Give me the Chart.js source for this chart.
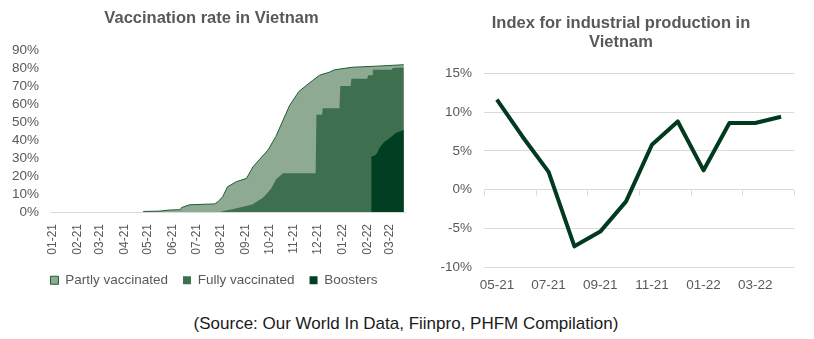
<!DOCTYPE html>
<html>
<head>
<meta charset="utf-8">
<script src="https://cdn.jsdelivr.net/npm/chart.js@4.4.1/dist/chart.umd.min.js"></script>
<style>
  html, body { margin: 0; padding: 0; background: #fff; }
  #page { position: relative; width: 814px; height: 339px; overflow: hidden; }
  #vacc { position: absolute; left: 0; top: 0; }
  #ip { position: absolute; left: 410px; top: 0; }
  #source {
    position: absolute; left: 0; top: 314px; width: 812px; text-align: center;
    font: 17px 'Liberation Sans', Arial, sans-serif; color: #1a1a1a;
  }
</style>
</head>
<body>
<div id="page">
  <canvas id="ip" width="404" height="300"></canvas>
  <canvas id="vacc" width="410" height="300"></canvas>
  <div id="source">(Source: Our World In Data, Fiinpro, PHFM Compilation)</div>
</div>
<script>
// vaccination coverage, % of population
const vaccTicks = ['01-21', '02-21', '03-21', '04-21', '05-21', '06-21', '07-21', '08-21',
  '09-21', '10-21', '11-21', '12-21', '01-22', '02-22', '03-22'];

const partlyDates = ['2021-04-25', '2021-05-16', '2021-05-28', '2021-06-11', '2021-06-12', '2021-06-22',
  '2021-07-11', '2021-07-24', '2021-07-28', '2021-08-03', '2021-08-09', '2021-08-20', '2021-09-02',
  '2021-09-10', '2021-09-18', '2021-09-29', '2021-10-09', '2021-10-17', '2021-10-26', '2021-11-07',
  '2021-11-24', '2021-12-03', '2021-12-15', '2021-12-22', '2022-01-13', '2022-02-12', '2022-03-19'];
const partlyValues = [0.3, 0.5, 1.1, 1.3, 2.4, 4.0, 4.3, 4.5, 5.7, 8.5, 14, 16.8, 18.7,
  25, 29, 34.4, 42, 50, 59, 67, 73, 76, 77.6, 79, 80.4, 81, 81.8];

const fullyDates = ['2021-08-01', '2021-08-15', '2021-08-30', '2021-09-10', '2021-09-18', '2021-09-22',
  '2021-09-29', '2021-10-03', '2021-10-09', '2021-10-18', '2021-11-28', '2021-11-29', '2021-12-06',
  '2021-12-07', '2021-12-28', '2021-12-29', '2022-01-11', '2022-01-12', '2022-02-01', '2022-02-02',
  '2022-02-07', '2022-02-08', '2022-03-04', '2022-03-05', '2022-03-19'];
const fullyValues = [0.3, 1.5, 3.0, 4.3, 6.7, 7.6, 11, 13, 18, 21.5, 21.5, 54, 54,
  57.6, 57.6, 70, 70, 74, 74, 76, 76, 79, 79, 80, 80.3];

const boosterDates = ['2022-02-06', '2022-02-11', '2022-02-14', '2022-02-16', '2022-02-22',
  '2022-03-01', '2022-03-09', '2022-03-19'];
const boosterValues = [30.7, 31.5, 33, 35.4, 38.7, 41, 43.9, 45.5];

// industrial production index, yoy %
const ipMonths = ['05-21', '06-21', '07-21', '08-21', '09-21', '10-21',
  '11-21', '12-21', '01-22', '02-22', '03-22', '04-22'];
const ipValues = [11.6, 6.8, 2.3, -7.3, -5.4, -1.5, 5.8, 8.8, 2.5, 8.6, 8.6, 9.4];

const GREY = '#595959';
Chart.defaults.font.family = "'Liberation Sans', Arial, sans-serif";
Chart.defaults.color = GREY;

const DAY0 = Date.UTC(2021, 0, 1);
const dayOf = s => {
  const [y, m, d] = s.split('-').map(Number);
  return (Date.UTC(y, m - 1, d) - DAY0) / 86400000;
};
const tickDay = t => dayOf('20' + t.slice(3) + '-' + t.slice(0, 2) + '-01');
const toPoints = (dates, values) => dates.map((d, i) => ({ x: dayOf(d), y: values[i] }));

const titleFont = { size: 16.5, weight: 'bold', lineHeight: 1.18 };

// re-span title / legend horizontally so they centre where we want
const boxSpan = {
  id: 'boxSpan',
  afterLayout(chart, args, opts) {
    const boxes = { title: chart.titleBlock, legend: chart.legend };
    for (const key of Object.keys(boxes)) {
      const box = boxes[key];
      const span = opts[key];
      if (!box || !span) continue;
      box.left = span[0];
      box.right = span[1];
      box.width = span[1] - span[0];
    }
  }
};

new Chart(document.getElementById('vacc'), {
  type: 'line',
  data: {
    datasets: [
      {
        label: 'Partly vaccinated',
        data: toPoints(partlyDates, partlyValues),
        backgroundColor: '#8eaa93',
        borderColor: '#1f5c36',
        borderWidth: 1,
        fill: 'origin',
        order: 3
      },
      {
        label: 'Fully vaccinated',
        data: toPoints(fullyDates, fullyValues),
        backgroundColor: '#3e7050',
        borderColor: '#3e7050',
        borderWidth: 0,
        fill: 'origin',
        order: 2
      },
      {
        label: 'Boosters',
        data: toPoints(boosterDates, boosterValues),
        backgroundColor: '#003f21',
        borderColor: '#003f21',
        borderWidth: 0,
        fill: 'origin',
        order: 1
      }
    ]
  },
  plugins: [boxSpan],
  options: {
    responsive: false,
    animation: false,
    elements: { point: { radius: 0 }, line: { tension: 0 } },
    layout: { padding: { left: 0, right: 5, top: 0, bottom: 3 } },
    plugins: {
      tooltip: { enabled: false },
      boxSpan: { title: [18, 405], legend: [23, 405] },
      title: {
        display: true,
        text: 'Vaccination rate in Vietnam',
        color: GREY,
        font: titleFont,
        padding: { top: 8.8, bottom: 21.7 }
      },
      legend: {
        position: 'bottom',
        labels: {
          boxWidth: 8,
          boxHeight: 8,
          padding: 15,
          color: GREY,
          font: { size: 13.5 },
          sort: (a, b) => a.datasetIndex - b.datasetIndex
        }
      }
    },
    scales: {
      x: {
        type: 'linear',
        min: -3.4,
        max: 443.5,
        grid: { display: false, drawTicks: false },
        border: { color: '#d9d9d9' },
        afterBuildTicks: axis => { axis.ticks = vaccTicks.map(t => ({ value: tickDay(t) })); },
        afterFit: axis => {
          axis.height = 46.5;
          axis.paddingLeft = 0;
          axis.paddingRight = 0;
        },
        ticks: {
          autoSkip: false,
          minRotation: 90,
          maxRotation: 90,
          padding: 12,
          color: GREY,
          font: { size: 12 },
          callback: (v, i) => vaccTicks[i]
        }
      },
      y: {
        min: 0,
        max: 90,
        grid: { display: false, drawTicks: false },
        border: { display: false },
        afterFit: axis => { axis.width = 50; },
        ticks: {
          stepSize: 10,
          autoSkip: false,
          padding: 11,
          color: GREY,
          font: { size: 13.5 },
          callback: v => v + '%'
        }
      }
    }
  }
});

// small tick marks on the zero line, every two months
const zeroTicks = {
  id: 'zeroTicks',
  beforeDatasetsDraw(chart) {
    const { ctx, chartArea, scales: { y } } = chart;
    const y0 = Math.round(y.getPixelForValue(0)) + 0.5;
    const step = (chartArea.right - chartArea.left) / ipMonths.length;
    ctx.save();
    ctx.strokeStyle = '#d9d9d9';
    ctx.lineWidth = 1;
    ctx.beginPath();
    for (let i = 0; i <= ipMonths.length; i += 2) {
      const x = Math.round(chartArea.left + i * step) + 0.5;
      ctx.moveTo(x, y0);
      ctx.lineTo(x, y0 + 5);
    }
    ctx.stroke();
    ctx.restore();
  }
};

new Chart(document.getElementById('ip'), {
  type: 'line',
  data: {
    labels: ipMonths,
    datasets: [{
      data: ipValues,
      borderColor: '#013a1f',
      borderWidth: 4,
      borderJoinStyle: 'round',
      pointRadius: 0,
      tension: 0,
      fill: false
    }]
  },
  plugins: [zeroTicks, boxSpan],
  options: {
    responsive: false,
    animation: false,
    layout: { padding: { left: 0, right: 20, top: 0, bottom: 0 } },
    plugins: {
      tooltip: { enabled: false },
      legend: { display: false },
      boxSpan: { title: [38, 384] },
      title: {
        display: true,
        text: ['Index for industrial production in', 'Vietnam'],
        color: GREY,
        font: titleFont,
        padding: { top: 13.6, bottom: 20.8 }
      }
    },
    scales: {
      x: {
        offset: true,
        grid: { display: false, drawTicks: false },
        border: { display: false },
        afterFit: axis => { axis.height = 32.7; },
        ticks: {
          autoSkip: false,
          maxRotation: 0,
          padding: 10,
          color: GREY,
          font: { size: 13.5 },
          callback: (v, i) => (i % 2 === 0 ? ipMonths[i] : '')
        }
      },
      y: {
        min: -10,
        max: 15,
        grid: { color: '#d9d9d9', drawTicks: false },
        border: { display: false },
        afterFit: axis => { axis.width = 74; },
        ticks: {
          stepSize: 5,
          autoSkip: false,
          padding: 12,
          color: GREY,
          font: { size: 13.5 },
          callback: v => v + '%'
        }
      }
    }
  }
});
</script>
</body>
</html>
